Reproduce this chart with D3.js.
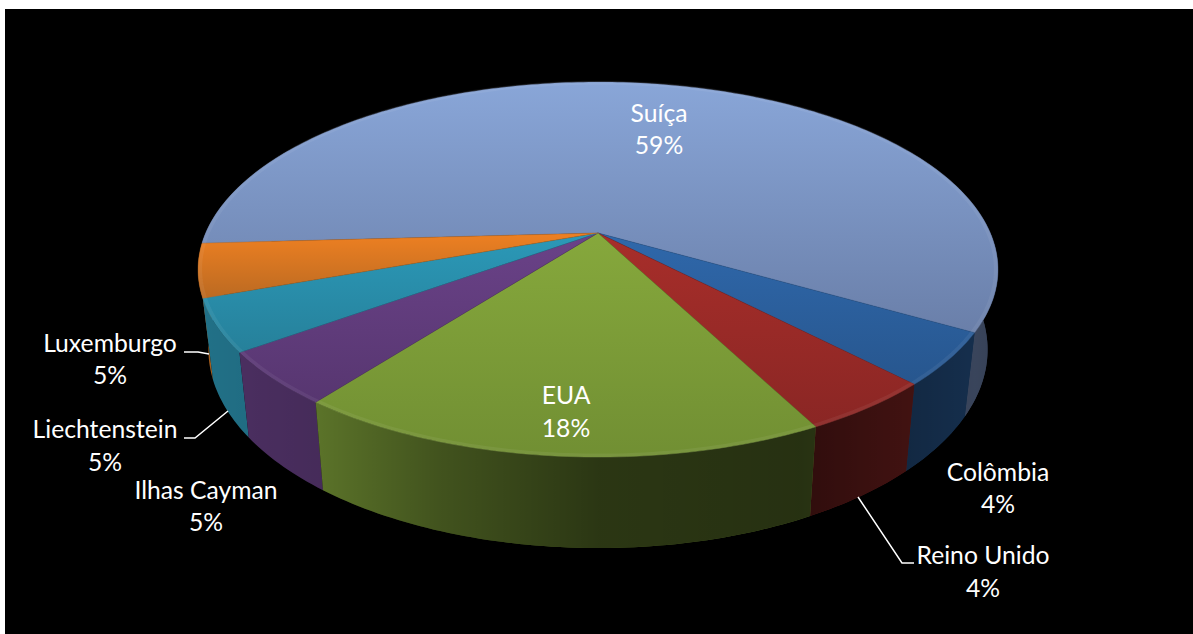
<!DOCTYPE html>
<html><head><meta charset="utf-8">
<style>html,body{margin:0;padding:0;background:#fff}svg{display:block}text{font-family:Lato,"Open Sans",sans-serif;fill:#fff;font-size:24.7px;text-anchor:middle}</style>
<script src="https://cdn.jsdelivr.net/npm/d3@7"></script></head><body>
<script>
const categories=["Suíça","Colômbia","Reino Unido","EUA","Ilhas Cayman","Liechtenstein","Luxemburgo"];
const values=[59.2,4.5,4.6,18.0,4.6,4.5,4.6];
const percentLabels=["59%","4%","4%","18%","5%","5%","5%"];
const topColors=["#89a6d8","#2f68ab","#a82e2a","#86a83c","#6a4288","#2b99b8","#ee8022"];
const lowColors=["#6a7fa9","#27568e","#8a2624","#718f33","#573670","#26809a","#bb6a22"];
const startDeg=266.8;

const W=1193,H=634;
const svg=d3.select("body").append("svg").attr("width",W).attr("height",H);
const defs=svg.append("defs");
svg.append("rect").attr("x",5).attr("y",9).attr("width",W-5).attr("height",H-9).attr("fill","#000");

// perspective disc: apex, horizontal half-width and foreshortening
const cx=598,cy=233,persp=0.1947,ka=180.4,kc=392.3,shrink=0.026,depth=78;
function project(theta,r,z){
  const u=r*Math.sin(theta),v=-r*Math.cos(theta),w=1-persp*v;
  const s=1-shrink*z;
  return [cx+kc*u/w*s, cy+ka*v/w*s+z*depth/w];
}
const rad=d=>d*Math.PI/180;
const pie=d3.pie().sort(null).startAngle(rad(startDeg)).endAngle(rad(startDeg)+2*Math.PI);
const arcs=pie(values).map((a,i)=>({...a,i}));
const line=d3.line();
function sample(a0,a1,r,z){
  const n=Math.max(2,Math.ceil((a1-a0)/rad(1)));
  return d3.range(n+1).map(k=>project(a0+(a1-a0)*k/n,r,z));
}
// gradients for top faces
arcs.forEach(a=>{
  const g=defs.append("linearGradient").attr("id","top"+a.i).attr("x1",0).attr("x2",0).attr("y1",0).attr("y2",1);
  g.append("stop").attr("offset",0).attr("stop-color",topColors[a.i]);
  g.append("stop").attr("offset",1).attr("stop-color",lowColors[a.i]);
});
const shade=defs.append("linearGradient").attr("id","shade").attr("gradientUnits","userSpaceOnUse")
  .attr("x1",199).attr("x2",999).attr("y1",0).attr("y2",0);
[[0,.12],[.15,.2],[.3,.42],[.5,.62],[.75,.66],[.9,.52],[.97,.46],[1,.5]].forEach(s=>
  shade.append("stop").attr("offset",s[0]).attr("stop-color","#000").attr("stop-opacity",s[1]));

// walls: visible part of every slice, back to front
const front0=rad(60),front1=rad(300);
const walls=[];
arcs.forEach(a=>{
  [0,2*Math.PI].forEach(off=>{
    const s=Math.max(a.startAngle-off,front0),e=Math.min(a.endAngle-off,front1);
    if(e>s+1e-6) walls.push({i:a.i,s,e,mid:(s+e)/2});
  });
});
walls.sort((p,q)=>Math.abs(q.mid-Math.PI)-Math.abs(p.mid-Math.PI));
const gWalls=svg.append("g");
walls.forEach(w=>{
  const pts=sample(w.s,w.e,1,0).concat(sample(w.s,w.e,1,1).reverse());
  const d=line(pts)+"Z";
  gWalls.append("path").attr("d",d).attr("fill",lowColors[w.i]);
  gWalls.append("path").attr("d",d).attr("fill","url(#shade)");
});
// top faces
const gTop=svg.append("g");
arcs.forEach(a=>{
  const pts=[[cx,cy]].concat(sample(a.startAngle,a.endAngle,1,0));
  gTop.append("path").attr("d",line(pts)+"Z").attr("fill",`url(#top${a.i})`)
    .attr("stroke",lowColors[a.i]).attr("stroke-width",.4);
});
// bevel on rim
arcs.forEach(a=>{
  gTop.append("path").attr("d",line(sample(a.startAngle,a.endAngle,0.995,0))).attr("fill","none")
    .attr("stroke","#fff").attr("stroke-opacity",.06).attr("stroke-width",4);
});

// leader lines
const leaderLayout={"Luxemburgo":[[184,352],[198,352],[209,354]],"Liechtenstein":[[184,438],[195,438],[228,411]],"Reino Unido":[[858,497],[902,563],[914,563]]};
Object.values(leaderLayout).forEach(p=>
  svg.append("path").attr("d",line(p)).attr("fill","none").attr("stroke","#fff").attr("stroke-width",1.5));
// labels
const labelLayout=[[659,122,154],[998,481,513],[983,564,597],[566,404,437],[206,499,531],[105,438,471],[110,352,384]];
categories.forEach((c,i)=>{
  const p=labelLayout[i];
  svg.append("text").attr("x",p[0]).attr("y",p[1]).text(c);
  svg.append("text").attr("x",p[0]).attr("y",p[2]).text(percentLabels[i]);
});
</script></body></html>
